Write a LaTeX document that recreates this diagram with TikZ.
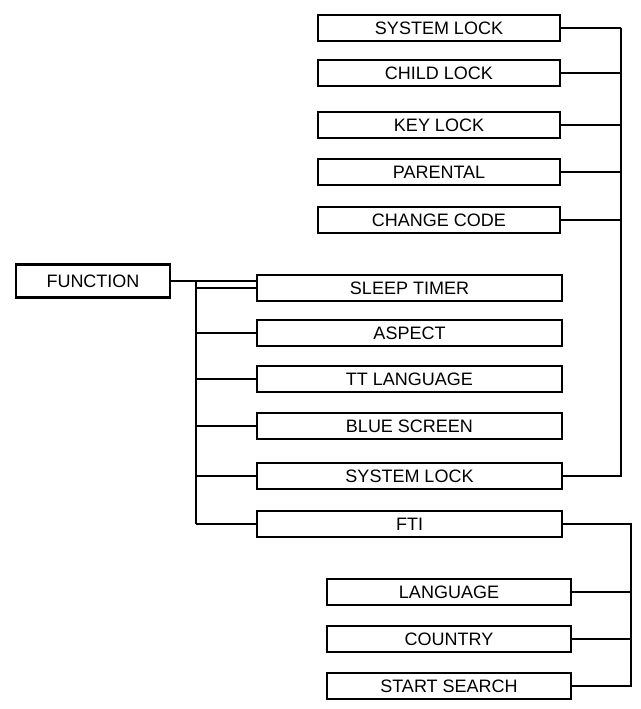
\documentclass[tikz,border=0pt]{standalone}
\usepackage{fontspec}
\setmainfont{Liberation Sans}
\begin{document}
\begin{tikzpicture}[x=1pt,y=-1pt,
 box/.style={draw,line width=2.2pt,inner sep=0pt,minimum height=26pt,font=\fontsize{18}{20}\selectfont},
 top/.style={box,minimum width=242pt},
 mid/.style={box,minimum width=305pt},
 bot/.style={box,minimum width=244pt},
 con/.style={line width=1.4pt}]
\useasboundingbox (0,0) rectangle (640,709);
\node[box,minimum width=154pt,minimum height=33pt] (fn) at (93,281) {FUNCTION};
\foreach \n/\y/\t in {t1/28/SYSTEM LOCK,t2/73/CHILD LOCK,t3/125/KEY LOCK,t4/172/PARENTAL,t5/220/CHANGE CODE}
  \node[top] (\n) at (439,\y) {\t};
\foreach \n/\y/\t in {m1/288/SLEEP TIMER,m2/333/ASPECT,m3/379/TT LANGUAGE,m4/426/BLUE SCREEN,m5/476/SYSTEM LOCK,m6/524/FTI}
  \node[mid] (\n) at (409.5,\y) {\t};
\foreach \n/\y/\t in {b1/592/LANGUAGE,b2/639/COUNTRY,b3/686/START SEARCH}
  \node[bot] (\n) at (449,\y) {\t};
\coordinate (fj) at (196,281);
\draw[con] (fn.east) -- (fj) -- (196,524);
\foreach \n in {m1,m2,m3,m4,m5,m6} \draw[con] (196,0 |- \n.west) -- (\n.west);
\draw[con] (fj) -- (fj -| m1.west);
\coordinate (rt) at (621,28);
\foreach \n in {t1,t2,t3,t4,t5} \draw[con] (\n.east) -- (\n.east -| rt);
\draw[con] (t1.east -| rt) -- (m5.east -| rt) -- (m5.east);
\coordinate (rb) at (631,524);
\draw[con] (m6.east) -- (rb) -- (rb |- b3.east) -- (b3.east);
\foreach \n in {b1,b2} \draw[con] (\n.east) -- (\n.east -| rb);
\end{tikzpicture}
\end{document}
